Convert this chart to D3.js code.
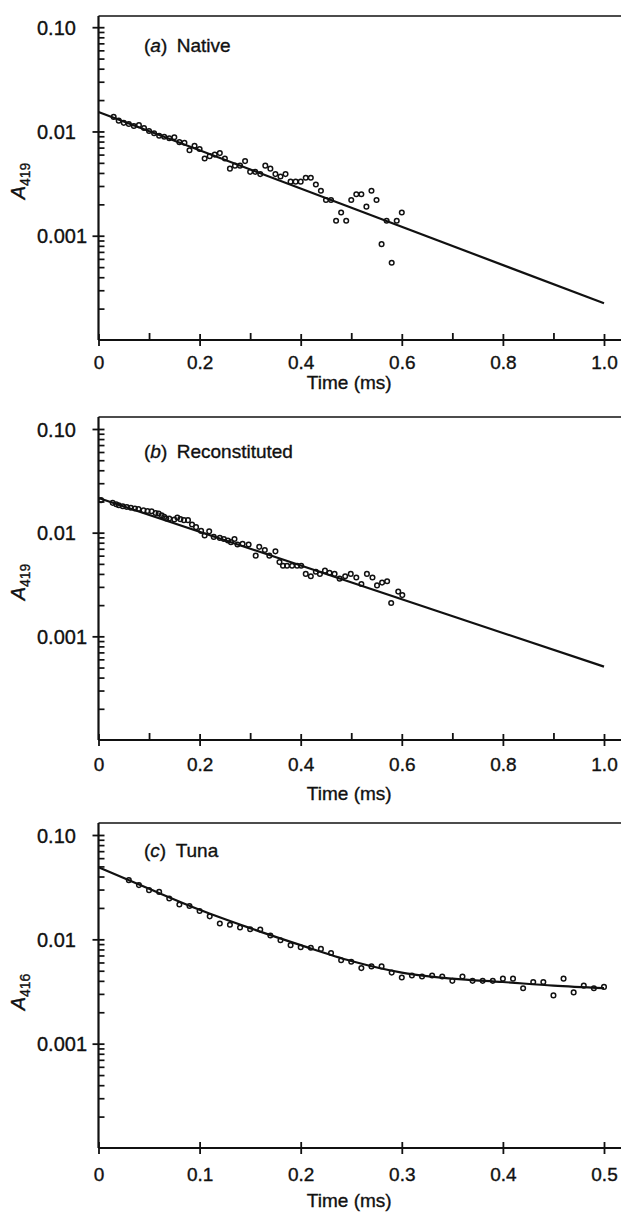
<!DOCTYPE html>
<html>
<head>
<meta charset="utf-8">
<script src="https://cdn.jsdelivr.net/npm/d3@7"></script>
<style>
  body { margin: 0; background: #fff; }
  svg { display: block; }
  text { font-family: "Liberation Sans", Arial, sans-serif; fill: #111; stroke: #111; stroke-width: 0.35px; }
</style>
</head>
<body>
<svg id="chart" width="621" height="1212"></svg>
<script>
// ---- data ----
// (a) Native: A419 vs time (ms)
const nativeT = [0.03,0.04,0.05,0.06,0.07,0.08,0.09,0.10,0.11,0.12,0.13,0.14,0.15,0.16,0.17,0.18,0.19,0.20,
  0.21,0.22,0.23,0.24,0.25,0.26,0.27,0.28,0.29,0.30,0.31,0.32,0.33,0.34,0.35,0.36,0.37,0.38,0.39,0.40,
  0.41,0.42,0.43,0.44,0.45,0.46,0.47,0.48,0.49,0.50,0.51,0.52,0.53,0.54,0.55,0.56,0.57,0.58,0.59,0.60];
const nativeA = [0.0138,0.0127,0.0121,0.0118,0.0113,0.0115,0.0108,0.0101,0.0096,0.0091,0.0089,0.0086,0.0088,
  0.0079,0.0078,0.0066,0.0073,0.0068,0.0055,0.0058,0.0060,0.0062,0.0055,0.0044,0.0047,0.0047,0.0052,0.0041,
  0.0041,0.0039,0.0047,0.0044,0.0039,0.0037,0.0039,0.0033,0.0033,0.0033,0.0036,0.0036,0.0031,0.0027,0.0022,
  0.0022,0.00139,0.00167,0.00139,0.0022,0.0025,0.0025,0.0019,0.0027,0.0022,0.00083,0.00139,0.00055,0.00139,0.00167];
const nativeFitT = [0, 1.0];
const nativeFitA = [0.01535, 0.000225];

// (b) Reconstituted
const reconT = [0.005,0.028,0.035,0.040,0.048,0.056,0.064,0.072,0.079,0.089,0.097,0.105,0.113,0.119,0.125,
  0.130,0.134,0.140,0.150,0.156,0.162,0.169,0.177,0.185,0.193,0.203,0.210,0.219,0.228,0.240,0.248,0.256,
  0.262,0.269,0.275,0.285,0.297,0.311,0.318,0.329,0.338,0.350,0.358,0.365,0.373,0.383,0.393,0.401,0.410,
  0.420,0.430,0.438,0.448,0.457,0.467,0.477,0.488,0.499,0.510,0.520,0.531,0.542,0.551,0.561,0.571,0.579,
  0.593,0.601];
const reconA = [0.0206,0.0194,0.0188,0.0184,0.0180,0.0177,0.0174,0.0171,0.0169,0.0164,0.0162,0.0161,0.0155,
  0.0153,0.0147,0.0142,0.0137,0.0137,0.0134,0.0140,0.0135,0.0132,0.0132,0.0120,0.0113,0.0104,0.0094,0.0103,
  0.0091,0.0089,0.0087,0.0084,0.0081,0.0087,0.0077,0.0078,0.0077,0.0060,0.0073,0.0068,0.0060,0.0066,0.0052,
  0.0048,0.0048,0.0048,0.0048,0.0048,0.0040,0.0038,0.0042,0.0040,0.0043,0.0041,0.0040,0.0036,0.0038,0.0040,
  0.0037,0.0032,0.0040,0.0037,0.0031,0.0033,0.0034,0.0021,0.0027,0.0025];
const reconFitT = [0, 1.0];
const reconFitA = [0.0216, 0.00051];

// (c) Tuna: A416
const tunaT = [0.03,0.04,0.05,0.06,0.07,0.08,0.09,0.10,0.11,0.12,0.13,0.14,0.15,0.16,0.17,0.18,0.19,0.20,
  0.21,0.22,0.23,0.24,0.25,0.26,0.27,0.28,0.29,0.30,0.31,0.32,0.33,0.34,0.35,0.36,0.37,0.38,0.39,0.40,
  0.41,0.42,0.43,0.44,0.45,0.46,0.47,0.48,0.49,0.50];
const tunaA = [0.0369,0.0331,0.0296,0.0285,0.0246,0.0216,0.0209,0.0187,0.0166,0.0142,0.0138,0.0130,0.0125,
  0.0124,0.0109,0.0098,0.0088,0.0084,0.0083,0.0081,0.0074,0.0063,0.0061,0.0053,0.0055,0.0055,0.0048,0.0043,
  0.0045,0.0044,0.0045,0.0044,0.0040,0.0044,0.0040,0.0040,0.0040,0.0042,0.0042,0.0034,0.0039,0.0039,0.0029,
  0.0042,0.0031,0.0036,0.0034,0.0035];
const tunaFitT = [0, 0.05, 0.10, 0.15, 0.20, 0.25, 0.30, 0.35, 0.40, 0.45, 0.50];
const tunaFitA = [0.049, 0.0305, 0.0192, 0.0128, 0.0088, 0.0062, 0.0048, 0.0042, 0.0039, 0.0036, 0.0034];

// axis ticks
const yMajor = [0.001, 0.01, 0.1];
const yMajorLabels = ["0.001", "0.01", "0.10"];
const xTicksLong = [0, 0.2, 0.4, 0.6, 0.8, 1.0];
const xLabelsLong = ["0", "0.2", "0.4", "0.6", "0.8", "1.0"];
const xMinorLong = [0.1, 0.3, 0.5, 0.7, 0.9];
const xTicksShort = [0, 0.1, 0.2, 0.3, 0.4, 0.5];
const xLabelsShort = ["0", "0.1", "0.2", "0.3", "0.4", "0.5"];

// ---- layout ----
const svg = d3.select("#chart");
const left = 98.5, right = 604;

const panels = [
  { tag: "a", name: "Native", sub: "419", t: nativeT, a: nativeA, fitT: nativeFitT, fitA: nativeFitA,
    xMax: 1.0, ticks: xTicksLong, labels: xLabelsLong, minor: xMinorLong,
    yTop: 27.2, yBot: 340, frame: 16, titleY: 52, tickLabY: 369, timeY: 389, yLabY: 181 },
  { tag: "b", name: "Reconstituted", sub: "419", t: reconT, a: reconA, fitT: reconFitT, fitA: reconFitA,
    xMax: 1.0, ticks: xTicksLong, labels: xLabelsLong, minor: xMinorLong,
    yTop: 429, yBot: 740, frame: 417, titleY: 458, tickLabY: 771, timeY: 800, yLabY: 582 },
  { tag: "c", name: "Tuna", sub: "416", t: tunaT, a: tunaA, fitT: tunaFitT, fitA: tunaFitA,
    xMax: 0.5, ticks: xTicksShort, labels: xLabelsShort, minor: [],
    yTop: 835, yBot: 1148, frame: 823, titleY: 857, tickLabY: 1181, timeY: 1207, yLabY: 992 }
];

// minor log ticks 2..9 in each decade
const yMinor = [];
[0.0001, 0.001, 0.01].forEach(d => { for (let k = 2; k <= 9; k++) yMinor.push(d * k); });

panels.forEach(p => {
  const x = d3.scaleLinear().domain([0, p.xMax]).range([left, right]);
  const y = d3.scaleLog().domain([0.0001, 0.1]).range([p.yBot, p.yTop]);
  const g = svg.append("g");

  // frame: top line and axes
  g.append("line").attr("x1", left).attr("x2", 621).attr("y1", p.frame).attr("y2", p.frame)
    .attr("stroke", "#111").attr("stroke-width", 1.6);
  g.append("line").attr("x1", left).attr("x2", left).attr("y1", p.frame).attr("y2", p.yBot)
    .attr("stroke", "#111").attr("stroke-width", 2.2);
  g.append("line").attr("x1", left).attr("x2", 621).attr("y1", p.yBot).attr("y2", p.yBot)
    .attr("stroke", "#111").attr("stroke-width", 2.2);

  // x axis, ticks crossing the line
  const xAx = g.append("g").attr("transform", `translate(0,${p.yBot})`)
    .call(d3.axisBottom(x).tickValues(p.ticks).tickSize(6).tickPadding(8)
      .tickFormat((d, i) => p.labels[i]));
  xAx.select(".domain").remove();
  xAx.selectAll(".tick line").attr("y1", -6).attr("stroke", "#111").attr("stroke-width", 1.8);
  xAx.selectAll(".tick text").attr("y", p.tickLabY - p.yBot).attr("dy", null)
    .style("font-size", "19px").attr("fill", "#111");

  if (p.minor.length) {
    const xm = g.append("g").attr("transform", `translate(0,${p.yBot})`)
      .call(d3.axisTop(x).tickValues(p.minor).tickSize(7).tickFormat(""));
    xm.select(".domain").remove();
    xm.selectAll(".tick line").attr("stroke", "#111").attr("stroke-width", 1.8);
  }

  // y axis: major ticks crossing, labels left aligned
  const yAx = g.append("g").attr("transform", `translate(${left},0)`)
    .call(d3.axisLeft(y).tickValues(yMajor).tickSize(5)
      .tickFormat((d, i) => yMajorLabels[i]));
  yAx.select(".domain").remove();
  yAx.selectAll(".tick line").attr("x2", -6).attr("x1", 6).attr("stroke", "#111").attr("stroke-width", 1.8);
  yAx.selectAll(".tick text").attr("x", 37 - left).attr("text-anchor", "start").attr("dy", "0.36em")
    .style("font-size", "20px").attr("fill", "#111");

  const ym = g.append("g").attr("transform", `translate(${left},0)`)
    .call(d3.axisRight(y).tickValues(yMinor).tickSize(6).tickFormat(""));
  ym.select(".domain").remove();
  ym.selectAll(".tick line").attr("stroke", "#111").attr("stroke-width", 1.7);

  // fitted line
  const line = d3.line().x(d => x(d[0])).y(d => y(d[1])).curve(d3.curveMonotoneX);
  g.append("path").datum(p.fitT.map((t, i) => [t, p.fitA[i]]))
    .attr("d", line).attr("fill", "none").attr("stroke", "#111").attr("stroke-width", 2.2);

  // data points (open circles)
  g.selectAll("circle.pt").data(p.t.map((t, i) => [t, p.a[i]])).join("circle")
    .attr("class", "pt").attr("cx", d => x(d[0])).attr("cy", d => y(d[1])).attr("r", 2.3)
    .attr("fill", "none").attr("stroke", "#111").attr("stroke-width", 1.5);

  // panel title
  const title = g.append("text").attr("x", 144).attr("y", p.titleY).style("font-size", "19px");
  title.append("tspan").text("(");
  title.append("tspan").style("font-style", "italic").text(p.tag);
  title.append("tspan").text(")\u2002" + p.name);

  // x label
  g.append("text").attr("x", (left + right) / 2 - 2).attr("y", p.timeY).attr("text-anchor", "middle")
    .style("font-size", "19px").text("Time (ms)");

  // y label A with subscript
  const yl = g.append("text").attr("transform", `translate(25,${p.yLabY}) rotate(-90)`)
    .attr("text-anchor", "middle").style("font-size", "20px");
  yl.append("tspan").style("font-style", "italic").text("A");
  yl.append("tspan").attr("dy", 5).style("font-size", "14px").text(p.sub);
});
</script>
</body>
</html>
